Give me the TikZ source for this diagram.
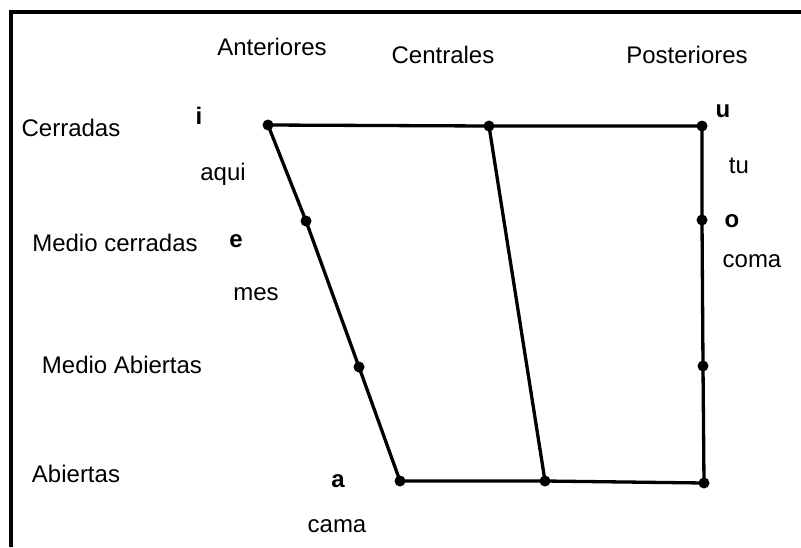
\documentclass[tikz,border=0pt]{standalone}
\usepackage{fontspec}
\setmainfont{Liberation Sans}
\usepackage{tikz}

\begin{document}
\begin{tikzpicture}[
            x=1pt, y=-1pt,
            dot/.style={circle, fill, inner sep=0pt, minimum size=11pt},
            lbl/.style={anchor=base, inner sep=0pt, font=\fontsize{24}{28}\selectfont},
            vowel/.style={lbl, font=\fontsize{24}{28}\selectfont\bfseries},
            line width=3.3pt,
        ]
        \useasboundingbox (0,0) rectangle (801,547);
        \draw[line width=4pt] (801,12) -- (11,12) -- (11,547);
        % dots
        \node[dot] (i)  at (268,125) {};
        \node[dot] (ct) at (489,126) {};
        \node[dot] (u)  at (702,126) {};
        \node[dot] (e)  at (306,221) {};
        \node[dot] (ma) at (359,367) {};
        \node[dot] (a)  at (400,481) {};
        \node[dot] (cb) at (545,481) {};
        \node[dot] (o)  at (702,220) {};
        \node[dot] (mr) at (703,366) {};
        \node[dot] (br) at (704,483) {};
        \draw (i.center) -- (ct.center) -- (u.center);
        \draw (i.center) -- (e.center) -- (ma.center) -- (a.center);
        \draw (ct.center) -- (cb.center);
        \draw (u.center) -- (o.center) -- (mr.center) -- (br.center);
        \draw (a.center) -- (cb.center) -- (br.center);
        % labels
        \node[lbl] (ant) at (272,55) {Anteriores};
        \node[lbl] (cen) at (443,63) {Centrales};
        \node[lbl] (pos) at (687,63) {Posteriores};
        \node[lbl] (cer) at (71,136) {Cerradas};
        \node[lbl] (mce) at (115,251) {Medio cerradas};
        \node[lbl] (mab) at (122,373) {Medio Abiertas};
        \node[lbl] (abi) at (76,482) {Abiertas};
        \node[vowel] (vi) at (199,124) {i};
        \node[vowel] (ve) at (236,247) {e};
        \node[vowel] (va) at (338,487) {a};
        \node[vowel] (vu) at (723,117) {u};
        \node[vowel] (vo) at (732,227) {o};
        \node[lbl] (aqui) at (223,180) {aqui};
        \node[lbl] (mes)  at (256,300) {mes};
        \node[lbl] (cama) at (337,532) {cama};
        \node[lbl] (tu)   at (739,173) {tu};
        \node[lbl] (coma) at (752,267) {coma};
\end{tikzpicture}
\end{document}
